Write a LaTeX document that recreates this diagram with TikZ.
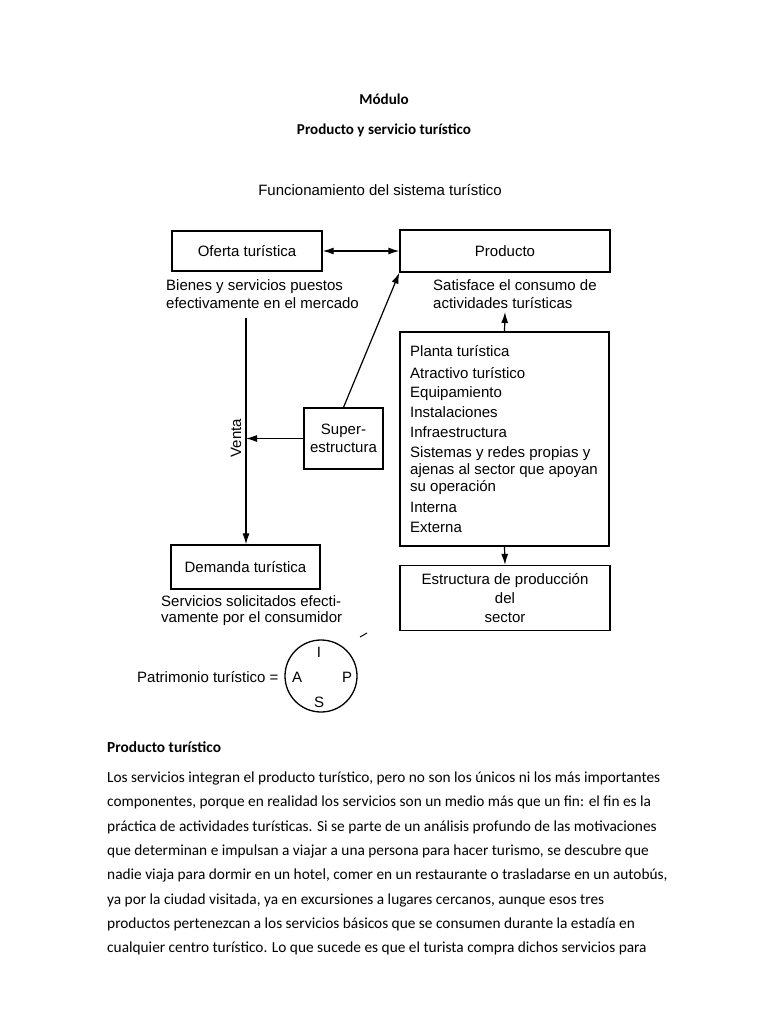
\documentclass[tikz,border=0pt]{standalone}
\usepackage{fontspec}
\setmainfont{Carlito}
\newfontfamily\diagfont{Liberation Sans}
\usetikzlibrary{arrows.meta}
\begin{document}
\begin{tikzpicture}[x=1pt,y=-1pt,
  box/.style={draw, line width=1.3pt, inner sep=0pt, align=center, font=\diagfont\fontsize{15}{17}\selectfont},
  dtext/.style={inner sep=0pt, font=\diagfont\fontsize{15}{17}\selectfont},
  ltext/.style={dtext, anchor=base west},
  btext/.style={inner sep=0pt, anchor=base west, font=\fontsize{15.35}{18}\selectfont},
  ttext/.style={inner sep=0pt, anchor=base, font=\bfseries\fontsize{15.1}{18}\selectfont},
  conn/.style={line width=1.2pt},
  arr/.style={conn, -{Latex[length=11pt,width=7pt]}},
  darr/.style={conn, {Latex[length=11pt,width=7pt]}-{Latex[length=11pt,width=7pt]}},
]
\useasboundingbox (0,0) rectangle (768,1024);
% titles
\node[ttext] (t1) at (384,105) {Módulo};
\node[ttext] (t2) at (384,135) {Producto y servicio turístico};
\node[dtext, anchor=base] (t3) at (380,196) {Funcionamiento del sistema turístico};
% boxes
\node[box, minimum width=150pt, minimum height=40pt] (oferta) at (247,251) {Oferta turística};
\node[box, minimum width=210pt, minimum height=42pt] (producto) at (505,251) {Producto};
\node[box, minimum width=79pt, minimum height=61pt, font=\diagfont\fontsize{15}{17.5}\selectfont] (super) at (343.5,438.5) {Super-\\estructura};
\node[box, minimum width=209pt, minimum height=214pt] (planta) at (504.5,439) {};
\node[box, minimum width=210pt, minimum height=65pt, font=\diagfont\fontsize{15}{19}\selectfont] (estructura) at (505,598) {Estructura de producción\\del\\sector};
\node[box, minimum width=149pt, minimum height=44pt] (demanda) at (245.5,567) {Demanda turística};
% descriptions
\node[ltext] (b1) at (166,290) {Bienes y servicios puestos};
\node[ltext] (b2) at (166,308) {efectivamente en el mercado};
\node[ltext] (s1) at (433,290) {Satisface el consumo de};
\node[ltext] (s2) at (433,308) {actividades turísticas};
\node[ltext] (d1) at (161,606) {Servicios solicitados efecti-};
\node[ltext] (d2) at (161,622) {vamente por el consumidor};
% list
\node[ltext] (l1) at (410,356) {Planta turística};
\node[ltext] (l2) at (410,378) {Atractivo turístico};
\node[ltext] (l3) at (410,397) {Equipamiento};
\node[ltext] (l4) at (410,417) {Instalaciones};
\node[ltext] (l5) at (410,437) {Infraestructura};
\node[ltext] (l6) at (410,457) {Sistemas y redes propias y};
\node[ltext] (l7) at (410,474) {ajenas al sector que apoyan};
\node[ltext] (l8) at (410,491) {su operación};
\node[ltext] (l9) at (410,512) {Interna};
\node[ltext] (l10) at (410,532) {Externa};
% connectors
\draw[darr] (oferta.east) -- (producto.west);
\coordinate (vtop) at (246,318);
\draw[arr] (vtop) -- (vtop |- demanda.north);
\node[dtext, rotate=90] (venta) at (236,438) {Venta};
\draw[arr] (super.west) -- (vtop |- super.west);
\draw[arr] (super.north) -- (producto.south west);
\coordinate (satis) at (505,312);
\draw[arr] (planta.north) -- (satis);
\draw[arr] (planta.south) -- (estructura.north);
\draw[line width=1pt] (360,637) -- (367,633);
% patrimonio
\node[ltext] (pat) at (137,682) {Patrimonio turístico =};
\node[draw, circle, line width=1.3pt, minimum size=72pt, inner sep=0pt] (circ) at (321,676) {};
\node[dtext] (ci) at (319,652) {I};
\node[dtext] (ca) at (297,677) {A};
\node[dtext] (cp) at (347,677) {P};
\node[dtext] (cs) at (319,702) {S};
% body text
\node[btext, font=\bfseries\fontsize{15.35}{18}\selectfont] (h) at (107,752) {Producto turístico};
\node[btext] (p1) at (107,782) {Los servicios integran el producto turístico, pero no son los únicos ni los más importantes};
\node[btext] (p2) at (107,806) {componentes, porque en realidad los servicios son un medio más que un fin: el fin es la};
\node[btext] (p3) at (107,831) {práctica de actividades turísticas. Si se parte de un análisis profundo de las motivaciones};
\node[btext] (p4) at (107,855) {que determinan e impulsan a viajar a una persona para hacer turismo, se descubre que};
\node[btext] (p5) at (107,879) {nadie viaja para dormir en un hotel, comer en un restaurante o trasladarse en un autobús,};
\node[btext] (p6) at (107,904) {ya por la ciudad visitada, ya en excursiones a lugares cercanos, aunque esos tres};
\node[btext] (p7) at (107,928) {productos pertenezcan a los servicios básicos que se consumen durante la estadía en};
\node[btext] (p8) at (107,952) {cualquier centro turístico. Lo que sucede es que el turista compra dichos servicios para};
\end{tikzpicture}
\end{document}
